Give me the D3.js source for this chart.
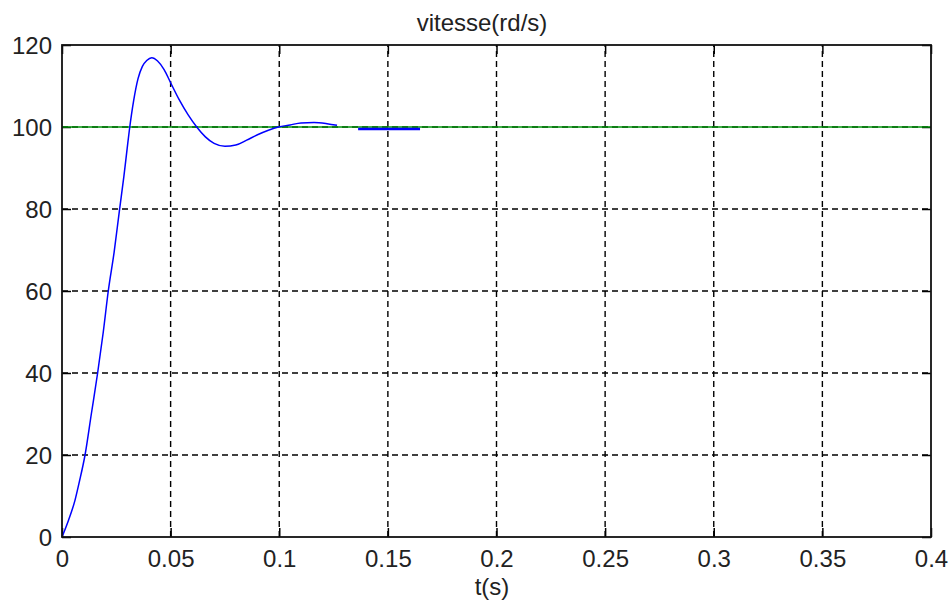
<!DOCTYPE html>
<html>
<head>
<meta charset="utf-8">
<script src="https://cdn.jsdelivr.net/npm/d3@7"></script>
<style>
  html, body { margin: 0; padding: 0; background: #fff; }
  svg { display: block; }
  text { font-family: Arial, "Liberation Sans", sans-serif; fill: #222; }
</style>
</head>
<body>
<svg id="chart" width="950" height="603"></svg>
<script>
// Speed response (rad/s) versus time (s)
const time1 = [0, 0.003, 0.006, 0.008, 0.0106, 0.0135, 0.0164, 0.019, 0.0213, 0.024, 0.0264,
  0.0285, 0.030, 0.031, 0.033, 0.035, 0.037, 0.039, 0.0413, 0.044, 0.047, 0.050, 0.054, 0.058,
  0.062, 0.066, 0.070, 0.075, 0.080, 0.085, 0.090, 0.095, 0.0996, 0.105, 0.110, 0.116, 0.122, 0.1266];
const speed1 = [0, 4.1, 9.0, 13.5, 20, 30, 40, 50, 60, 69.5, 79.5,
  88, 94.8, 99.2, 106.5, 111.8, 114.8, 116.2, 116.9, 116.1, 114, 110.8, 106.6, 103,
  100, 97.6, 96, 95.3, 95.6, 96.8, 98.1, 99.2, 100, 100.5, 101.0, 101.1, 100.8, 100.4];
const time2 = [0.1363, 0.1648];
const speed2 = [99.5, 99.5];
// Reference speed
const refTime = [0, 0.4];
const refSpeed = [100, 100];

const xTicks = [0, 0.05, 0.1, 0.15, 0.2, 0.25, 0.3, 0.35, 0.4];
const xTickLabels = ["0", "0.05", "0.1", "0.15", "0.2", "0.25", "0.3", "0.35", "0.4"];
const yTicks = [0, 20, 40, 60, 80, 100, 120];
const yTickLabels = ["0", "20", "40", "60", "80", "100", "120"];

const titleText = "vitesse(rd/s)";
const xLabelText = "t(s)";

const svg = d3.select("#chart");
const mLeft = 62, mRight = 931, mTop = 45, mBottom = 537;

const x = d3.scaleLinear().domain([0, 0.4]).range([mLeft, mRight]);
const y = d3.scaleLinear().domain([0, 120]).range([mBottom, mTop]);

// Grid
const grid = svg.append("g").attr("stroke", "#000").attr("stroke-width", 1.4)
  .attr("stroke-dasharray", "6,4").attr("fill", "none");
grid.selectAll("line.gx").data(xTicks.slice(1, -1)).enter().append("line")
  .attr("x1", d => x(d)).attr("x2", d => x(d)).attr("y1", mBottom).attr("y2", mTop);
grid.selectAll("line.gy").data(yTicks.slice(1, -1)).enter().append("line")
  .attr("x1", mLeft).attr("x2", mRight).attr("y1", d => y(d)).attr("y2", d => y(d));

// Ticks on all four sides (inward)
const tickLen = 9;
const axisBottom = d3.axisBottom(x).tickValues(xTicks).tickSize(-tickLen)
  .tickFormat((d, i) => xTickLabels[i]);
const axisTop = d3.axisTop(x).tickValues(xTicks).tickSize(-tickLen).tickFormat("");
const axisLeft = d3.axisLeft(y).tickValues(yTicks).tickSize(-tickLen)
  .tickFormat((d, i) => yTickLabels[i]);
const axisRight = d3.axisRight(y).tickValues(yTicks).tickSize(-tickLen).tickFormat("");

function styleAxis(g) {
  g.select(".domain").remove();
  g.selectAll(".tick line").attr("stroke", "#000").attr("stroke-width", 1.5);
  g.selectAll(".tick text").attr("font-size", 24).attr("fill", "#222")
    .attr("font-family", "Arial, 'Liberation Sans', sans-serif");
}
svg.append("g").attr("transform", `translate(0,${mBottom})`).call(axisBottom).call(styleAxis)
  .selectAll(".tick text").attr("dy", 0).attr("y", 30);
svg.append("g").attr("transform", `translate(0,${mTop})`).call(axisTop).call(styleAxis);
svg.append("g").attr("transform", `translate(${mLeft},0)`).call(axisLeft).call(styleAxis)
  .selectAll(".tick text").attr("x", -10).attr("dy", "0.36em");
svg.append("g").attr("transform", `translate(${mRight},0)`).call(axisRight).call(styleAxis);

// Reference line
const line = d3.line().x(d => x(d[0])).y(d => y(d[1]));
svg.append("path").datum(d3.zip(refTime, refSpeed)).attr("d", line)
  .attr("fill", "none").attr("stroke", "#00930a").attr("stroke-width", 1.6);

// Speed curve
const curve = d3.line().x(d => x(d[0])).y(d => y(d[1])).curve(d3.curveMonotoneX);
svg.append("path").datum(d3.zip(time1, speed1)).attr("d", curve)
  .attr("fill", "none").attr("stroke", "#0000ff").attr("stroke-width", 1.5);
svg.append("path").datum(d3.zip(time2, speed2)).attr("d", line)
  .attr("fill", "none").attr("stroke", "#0000ff").attr("stroke-width", 2.6);

// Axes box
svg.append("rect").attr("x", mLeft).attr("y", mTop).attr("width", mRight - mLeft).attr("height", mBottom - mTop)
  .attr("fill", "none").attr("stroke", "#111").attr("stroke-width", 1.8);

// Title and x label
svg.append("text").attr("x", 482).attr("y", 31).attr("text-anchor", "middle")
  .attr("font-size", 24).text(titleText);
svg.append("text").attr("x", 492).attr("y", 595).attr("text-anchor", "middle")
  .attr("font-size", 24).text(xLabelText);
</script>
</body>
</html>
